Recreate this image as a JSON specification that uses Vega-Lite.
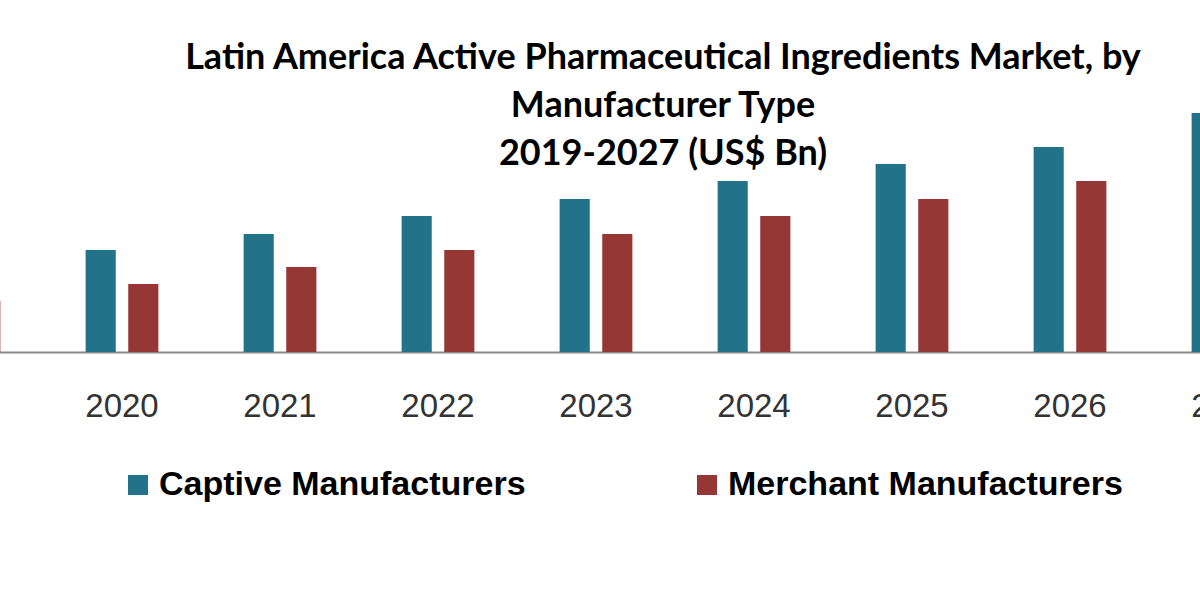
{
  "$schema": "https://vega.github.io/schema/vega-lite/v6.json",
  "width": 1422,
  "height": 352,
  "autosize": {"type": "none"},
  "padding": {"left": -115, "right": -107, "top": 0, "bottom": 248},
  "background": "white",
  "title": {
    "text": ["Latin America Active Pharmaceutical  Ingredients Market, by", "Manufacturer Type", "2019-2027 (US$ Bn)"],
    "font": "Lato",
    "fontSize": 36,
    "fontWeight": "bold",
    "color": "#000000",
    "lineHeight": 48,
    "anchor": "middle",
    "frame": "group",
    "baseline": "top",
    "offset": 0,
    "dx": 67,
    "dy": 173
  },
  "data": {
    "values": [
      {"year": "2019", "type": "Captive Manufacturers", "value": 0.85},
      {"year": "2020", "type": "Captive Manufacturers", "value": 1.02},
      {"year": "2021", "type": "Captive Manufacturers", "value": 1.18},
      {"year": "2022", "type": "Captive Manufacturers", "value": 1.36},
      {"year": "2023", "type": "Captive Manufacturers", "value": 1.53},
      {"year": "2024", "type": "Captive Manufacturers", "value": 1.71},
      {"year": "2025", "type": "Captive Manufacturers", "value": 1.88},
      {"year": "2026", "type": "Captive Manufacturers", "value": 2.05},
      {"year": "2027", "type": "Captive Manufacturers", "value": 2.39},
      {"year": "2019", "type": "Merchant Manufacturers", "value": 0.51},
      {"year": "2020", "type": "Merchant Manufacturers", "value": 0.68},
      {"year": "2021", "type": "Merchant Manufacturers", "value": 0.85},
      {"year": "2022", "type": "Merchant Manufacturers", "value": 1.02},
      {"year": "2023", "type": "Merchant Manufacturers", "value": 1.18},
      {"year": "2024", "type": "Merchant Manufacturers", "value": 1.36},
      {"year": "2025", "type": "Merchant Manufacturers", "value": 1.53},
      {"year": "2026", "type": "Merchant Manufacturers", "value": 1.71},
      {"year": "2027", "type": "Merchant Manufacturers", "value": 2.05}
    ]
  },
  "mark": {"type": "bar"},
  "encoding": {
    "x": {
      "field": "year",
      "type": "nominal",
      "scale": {"paddingInner": 0, "paddingOuter": 0},
      "axis": {
        "title": null,
        "labelAngle": 0,
        "labelFont": "Liberation Sans",
        "labelFontSize": 33,
        "labelColor": "#333333",
        "labelPadding": 38,
        "ticks": false,
        "grid": false,
        "domainColor": "#8a8a8a",
        "domainWidth": 2
      }
    },
    "xOffset": {
      "field": "type",
      "type": "nominal",
      "scale": {"paddingInner": 0.293, "paddingOuter": 1.073}
    },
    "y": {
      "field": "value",
      "type": "quantitative",
      "scale": {"domain": [0, 3.52], "nice": false},
      "axis": null
    },
    "color": {
      "field": "type",
      "type": "nominal",
      "scale": {"domain": ["Captive Manufacturers", "Merchant Manufacturers"], "range": ["#22728a", "#953735"]},
      "legend": {
        "title": null,
        "orient": "none",
        "direction": "horizontal",
        "legendX": 236,
        "legendY": 468,
        "symbolType": "square",
        "symbolSize": 400,
        "symbolStrokeWidth": 0,
        "labelFont": "Liberation Sans",
        "labelFontSize": 34,
        "labelFontWeight": "bold",
        "labelColor": "#000000",
        "labelLimit": 600,
        "labelOffset": 4,
        "columnPadding": 164
      }
    }
  },
  "config": {"view": {"stroke": null}}
}
